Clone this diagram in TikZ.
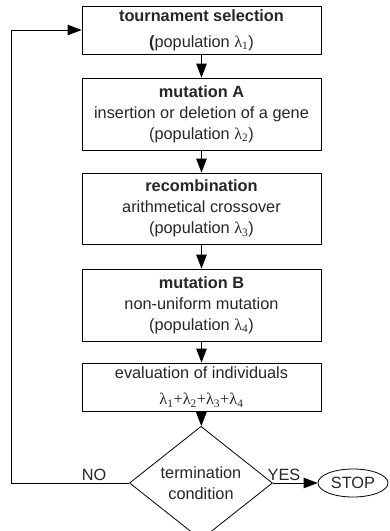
\documentclass[tikz,border=0pt]{standalone}
\usepackage{fontspec}
\setmainfont{Liberation Sans}
\newfontfamily\serifl{Liberation Serif}
\usetikzlibrary{shapes.geometric,arrows.meta}
\definecolor{txt}{HTML}{262626}
\newcommand{\lam}[1]{{\serifl λ\textsubscript{#1}}}
\begin{document}
\begin{tikzpicture}[x=1pt,y=1pt,
  font=\fontsize{16.3}{20.8}\selectfont,
  box/.style={draw, line width=0.8pt, minimum width=239pt, align=center, inner sep=0pt, text=txt},
  arr/.style={-{Triangle[length=14pt,width=10.5pt]}, line width=0.8pt},
  lbl/.style={anchor=base, text=txt, inner sep=0pt}]
\useasboundingbox (0,0) rectangle (389,-531);
\node[box, minimum height=48pt] (b1) at (201.5,-30)
  {\textbf{tournament selection}\\[5pt]\textbf{(}population \lam{1})};
\node[box, minimum height=72pt] (b2) at (201.5,-114)
  {\textbf{mutation A}\\insertion or deletion of a gene\\(population \lam{2})};
\node[box, minimum height=71pt] (b3) at (201.5,-208.5)
  {\textbf{recombination}\\arithmetical crossover\\(population \lam{3})};
\node[box, minimum height=72pt] (b4) at (201.5,-305)
  {\textbf{mutation B}\\non-uniform mutation\\(population \lam{4})};
\node[box, minimum height=48pt] (b5) at (201.5,-387)
  {evaluation of individuals\\[5pt]\lam{1}{\serifl+}\lam{2}{\serifl+}\lam{3}{\serifl+}\lam{4}};
\node[draw, diamond, line width=0.8pt, minimum width=143pt, minimum height=95pt, inner sep=0pt, align=center, text=txt] (d) at (201,-483)
  {termination\\condition};
\node[draw, ellipse, line width=0.8pt, minimum width=70pt, minimum height=28pt, inner sep=0pt, text=txt] (stop) at (353,-483) {STOP};
\coordinate (c1) at (11,-483);
\draw[arr] (b1) -- (b2);
\draw[arr] (b2) -- (b3);
\draw[arr] (b3) -- (b4);
\draw[arr] (b4) -- (b5);
\draw[arr] (b5) -- (d);
\draw[arr] (d.east) -- (stop.west);
\draw[arr] (d.west) -- (c1) |- (b1.west);
\node[lbl] (no) at (94,-480) {NO};
\node[lbl] (yes) at (284,-480) {YES};
\end{tikzpicture}
\end{document}
